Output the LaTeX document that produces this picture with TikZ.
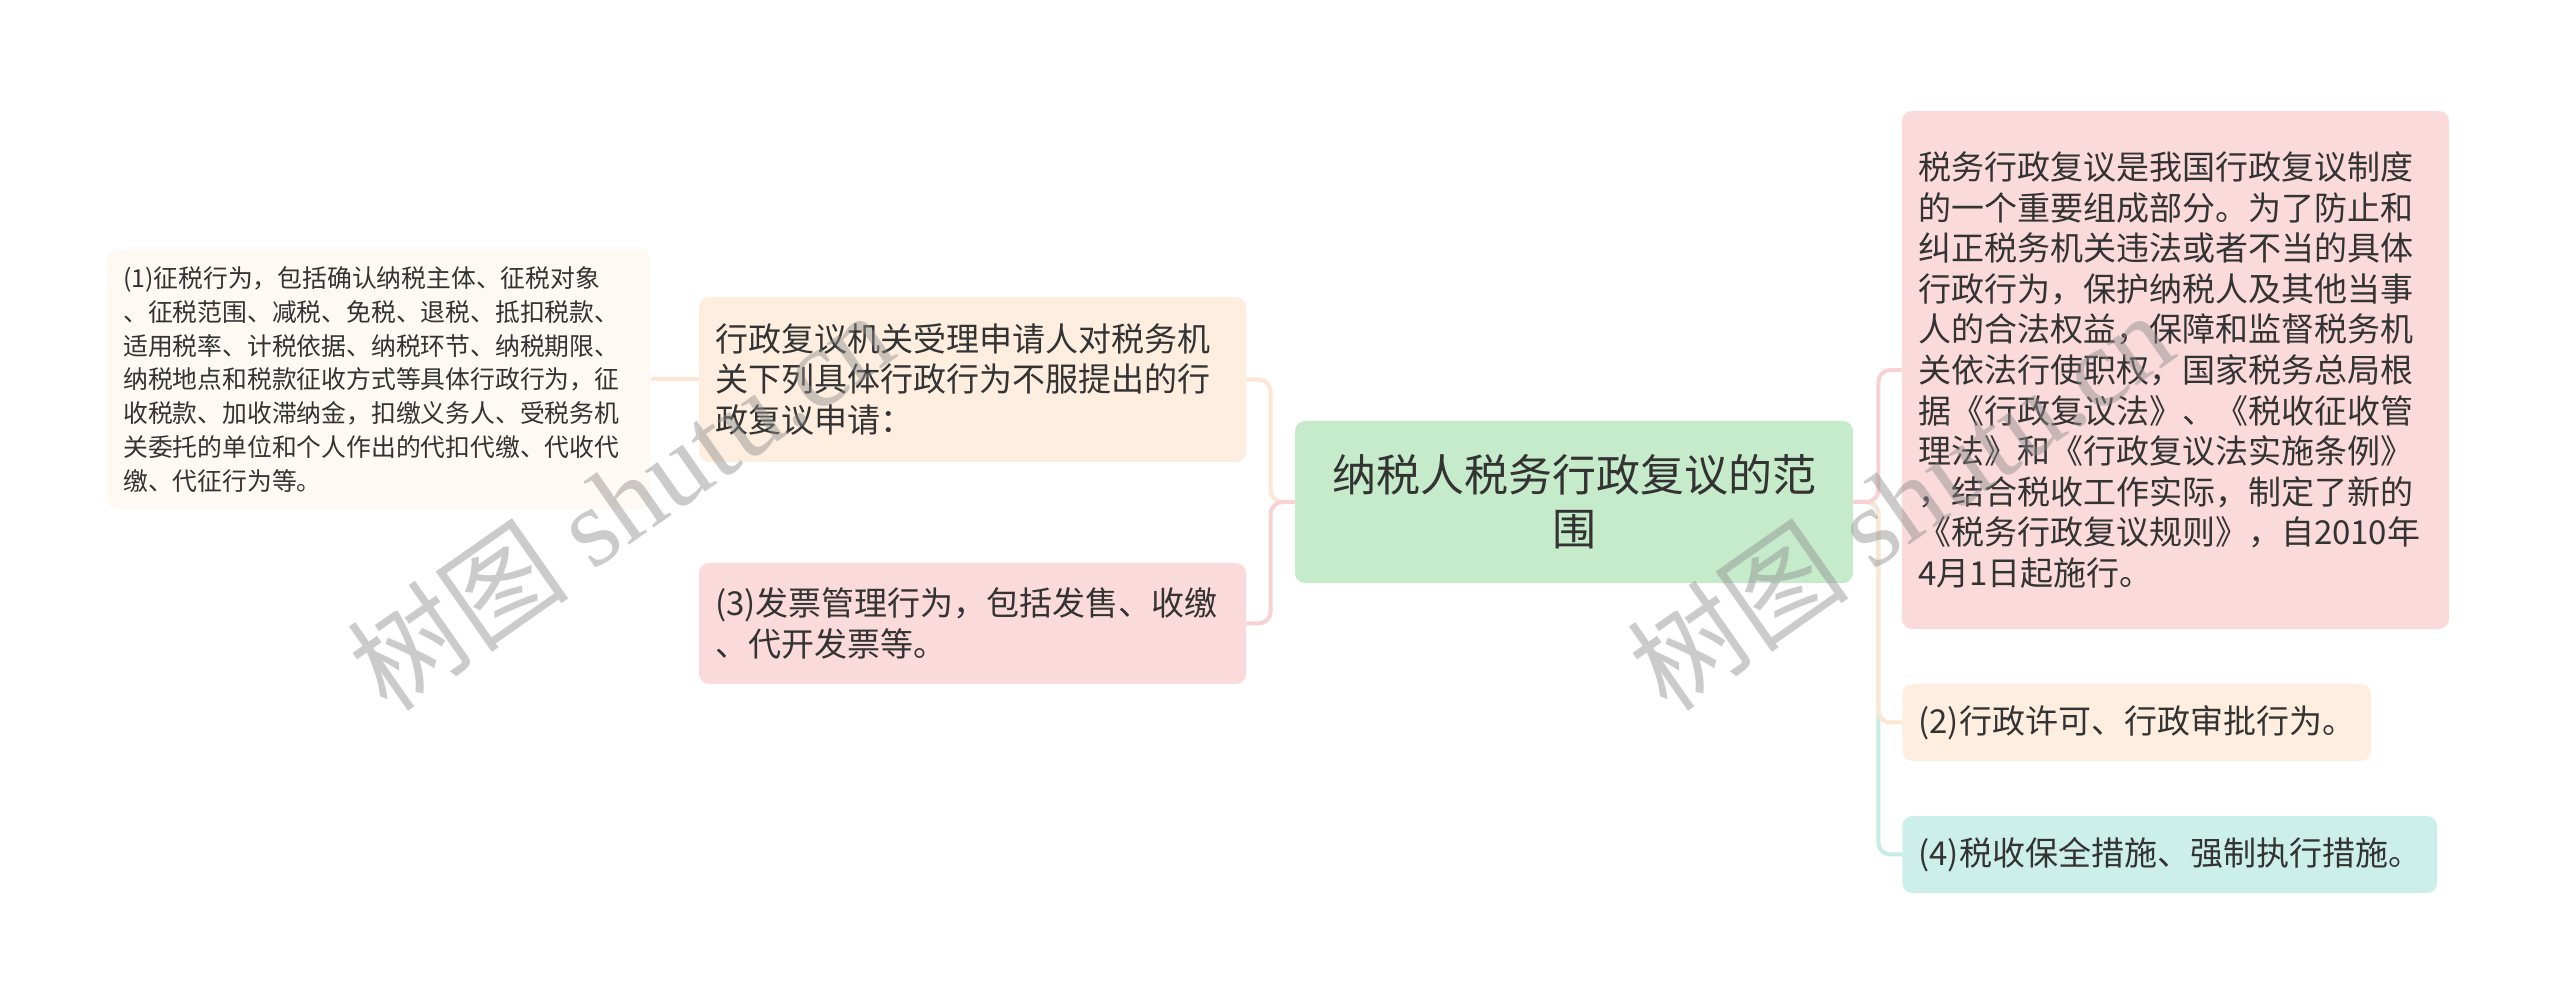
\documentclass[tikz,border=0pt]{standalone}
\usepackage{fontspec}
\setmainfont{Noto Sans CJK SC}
\newfontfamily\wmlatin{Liberation Serif}
\usetikzlibrary{positioning}

\definecolor{ink}{HTML}{333333}
\definecolor{rootfill}{HTML}{C6EBCB}
\definecolor{peach}{HTML}{FDEEDF}
\definecolor{rose}{HTML}{FADADB}
\definecolor{cream}{HTML}{FEF9F2}
\definecolor{mint}{HTML}{CDEFE9}
\definecolor{peachln}{HTML}{FCE6D4}
\definecolor{roseln}{HTML}{F8D2D3}
\definecolor{mintln}{HTML}{C8EBE6}

\begin{document}
\begin{tikzpicture}[x=0.5pt, y=-0.5pt,
  box/.style={rounded corners=5pt, inner xsep=8pt, inner ysep=4pt, text=ink,
    align=left, font=\fontsize{16.5}{20.3}\selectfont},
  topic/.style={box, fill=rootfill, align=center, text width=263pt,
    minimum width=279pt, minimum height=81pt, font=\fontsize{22}{27}\selectfont},
  sub/.style={box, text width=257.5pt},
  leaf/.style={box, minimum height=38.5pt},
  lk/.style={line width=2pt, rounded corners=6pt},
  wm/.style={text=black!45, opacity=0.45, font=\fontsize{56}{60}\selectfont}]

\useasboundingbox[fill=white] (0,0) rectangle (2560,1004);

  % centre
  \node[topic] (root) at (1574,502) {纳税人税务行政复议的范\\围}; %

  % left side
  \node[sub, fill=peach, minimum height=82.5pt] (ul) at (972.5,379.5)
    {行政复议机关受理申请人对税务机\\关下列具体行政行为不服提出的行\\政复议申请：}; %
  \node[sub, fill=rose, minimum height=60.5pt] (ll) at (972.5,623.5)
    {(3)发票管理行为，包括发售、收缴\\、代开发票等。}; %
  \node[sub, fill=cream, text width=255.5pt, minimum height=129.5pt,
    font=\fontsize{12.4}{16.9}\selectfont, left=24pt of ul] (fl)
    {(1)征税行为，包括确认纳税主体、征税对象\\、征税范围、减税、免税、退税、抵扣税款、\\适用税率、计税依据、纳税环节、纳税期限、\\纳税地点和税款征收方式等具体行政行为，征\\收税款、加收滞纳金，扣缴义务人、受税务机\\关委托的单位和个人作出的代扣代缴、代收代\\缴、代征行为等。}; %

  % right side
  \node[sub, fill=rose, minimum height=259pt] (rt) at (2175.5,370)
    {税务行政复议是我国行政复议制度\\的一个重要组成部分。为了防止和\\纠正税务机关违法或者不当的具体\\行政行为，保护纳税人及其他当事\\人的合法权益，保障和监督税务机\\关依法行使职权，国家税务总局根\\据《行政复议法》、《税收征收管\\理法》和《行政复议法实施条例》\\，结合税收工作实际，制定了新的\\《税务行政复议规则》，自2010年\\4月1日起施行。}; %
  \node[leaf, fill=peach, anchor=west] (r2) at (1902,722.5)
    {(2)行政许可、行政审批行为。}; %
  \node[leaf, fill=mint, anchor=west] (r4) at (1902,854.5)
    {(4)税收保全措施、强制执行措施。}; %

  % links
  \draw[lk, peachln] (root.west) -- ++(-24,0) |- (ul.east);
  \draw[lk, roseln] (root.west) -- ++(-24,0) |- (ll.east);
  \draw[lk, peachln] (ul.west) -- (fl.east);
  \draw[lk, mintln] (root.east) -- ++(25,0) |- (r4.west);
  \draw[lk, peachln] (root.east) -- ++(25,0) |- (r2.west);
  \draw[lk, roseln] (root.east) -- ++(25,0) |- (rt.west);

  % watermark
  \node[wm, rotate=35] (wm1) at (620,500) {树图 {\wmlatin shutu.cn}};
  \node[wm, rotate=35] (wm2) at (1900,500) {树图 {\wmlatin shutu.cn}};

\end{tikzpicture}
\end{document}
